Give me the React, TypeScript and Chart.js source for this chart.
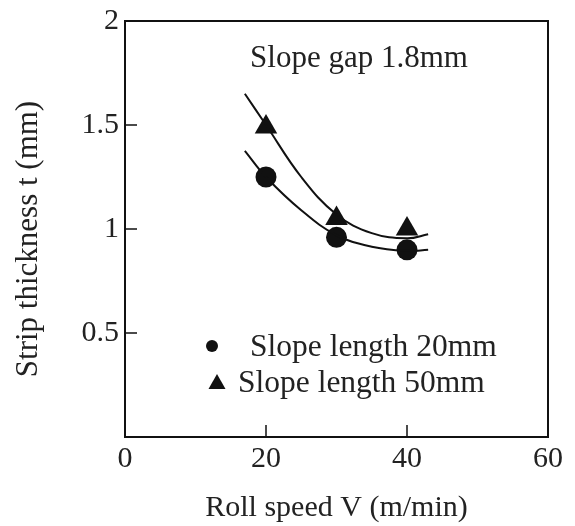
import React, { useEffect, useRef } from "react";
import { Chart, registerables } from "chart.js";

Chart.register(...registerables);

// Measured points (roll speed V in m/min -> strip thickness t in mm)
const speeds = [20, 30, 40];
const thickness20mm = [1.25, 0.96, 0.9];
const thickness50mm = [1.49, 1.05, 1.0];

// Fitted curves
const fitSpeeds = [17, 20, 25, 30, 35, 40, 43];
const fit20mm = [1.376, 1.25, 1.09, 0.97, 0.915, 0.895, 0.9];
const fit50mm = [1.65, 1.5, 1.25, 1.07, 0.98, 0.955, 0.975];

const xTicks = [0, 20, 40, 60];
const yTicks = [0.5, 1, 1.5, 2];
const innerXTicks = [20, 40];
const innerYTicks = [0.5, 1, 1.5];

const titleText = "Slope gap 1.8mm";
const legendLabels = ["Slope length 20mm", "Slope length 50mm"];
const xTitle = "Roll speed V (m/min)";
const yTitle = "Strip thickness t (mm)";

const FONT = "'Liberation Serif', 'Times New Roman', serif";
const INK = "#111";
const TEXT = "#222";

const framePlugin = {
  id: "frameAndNotes",
  afterDraw(chart: any) {
    const { ctx, chartArea: a, scales } = chart;
    const xs = scales.x;
    const ys = scales.y;
    ctx.save();
    ctx.strokeStyle = INK;
    ctx.lineWidth = 2;
    ctx.strokeRect(a.left, a.top, a.right - a.left, a.bottom - a.top);
    ctx.beginPath();
    for (const v of innerXTicks) {
      const px = xs.getPixelForValue(v);
      ctx.moveTo(px, a.bottom);
      ctx.lineTo(px, a.bottom - 12);
    }
    for (const v of innerYTicks) {
      const py = ys.getPixelForValue(v);
      ctx.moveTo(a.left, py);
      ctx.lineTo(a.left + 12, py);
    }
    ctx.lineWidth = 1.5;
    ctx.stroke();

    // y axis title (rotated)
    ctx.save();
    ctx.fillStyle = TEXT;
    ctx.font = `31px ${FONT}`;
    ctx.textAlign = "center";
    ctx.textBaseline = "middle";
    ctx.translate(29, (a.top + a.bottom) / 2 + 10);
    ctx.rotate(-Math.PI / 2);
    ctx.fillText(yTitle, 0, 0);
    ctx.restore();

    // annotation title
    ctx.fillStyle = TEXT;
    ctx.font = `31px ${FONT}`;
    ctx.textAlign = "center";
    ctx.textBaseline = "alphabetic";
    ctx.fillText(titleText, a.left + 234, a.top + 46);

    // legend
    ctx.textAlign = "left";
    ctx.fillStyle = INK;
    ctx.beginPath();
    ctx.arc(a.left + 87, a.top + 325, 6, 0, Math.PI * 2);
    ctx.fill();
    ctx.beginPath();
    const tx = a.left + 92;
    const ty = a.top + 361;
    ctx.moveTo(tx, ty - 8);
    ctx.lineTo(tx + 8.5, ty + 7);
    ctx.lineTo(tx - 8.5, ty + 7);
    ctx.closePath();
    ctx.fill();
    ctx.fillStyle = TEXT;
    ctx.font = `31.5px ${FONT}`;
    ctx.fillText(legendLabels[0], a.left + 125, a.top + 335);
    ctx.fillText(legendLabels[1], a.left + 113, a.top + 371);
    ctx.restore();
  },
};

export default function App() {
  const ref = useRef<HTMLCanvasElement>(null);

  useEffect(() => {
    if (!ref.current) return;
    const toXY = (xsArr: number[], ysArr: number[]) =>
      xsArr.map((x, i) => ({ x, y: ysArr[i] }));

    const chart = new Chart(ref.current, {
      type: "scatter",
      data: {
        datasets: [
          {
            label: "fit 20mm",
            data: toXY(fitSpeeds, fit20mm),
            showLine: true,
            tension: 0.4,
            borderColor: INK,
            borderWidth: 2,
            pointRadius: 0,
          },
          {
            label: "fit 50mm",
            data: toXY(fitSpeeds, fit50mm),
            showLine: true,
            tension: 0.4,
            borderColor: INK,
            borderWidth: 2,
            pointRadius: 0,
          },
          {
            label: legendLabels[0],
            data: toXY(speeds, thickness20mm),
            pointStyle: "circle",
            pointRadius: 10.5,
            backgroundColor: INK,
            borderColor: INK,
            borderWidth: 0,
          },
          {
            label: legendLabels[1],
            data: toXY(speeds, thickness50mm),
            pointStyle: "triangle",
            pointRadius: 13,
            backgroundColor: INK,
            borderColor: INK,
            borderWidth: 0,
          },
        ],
      },
      options: {
        responsive: false,
        animation: false,
        layout: { padding: { top: 16, right: 27, left: 0, bottom: 0 } },
        plugins: {
          legend: { display: false },
          tooltip: { enabled: false },
        },
        scales: {
          x: {
            type: "linear",
            min: 0,
            max: 60,
            afterBuildTicks: (s: any) => {
              s.ticks = xTicks.map((v) => ({ value: v }));
            },
            afterFit: (s: any) => {
              s.height = 89;
            },
            grid: { display: false, drawTicks: false },
            border: { display: false },
            ticks: {
              color: TEXT,
              font: { family: FONT, size: 30 },
              padding: 4,
              maxRotation: 0,
            },
            title: {
              display: true,
              text: xTitle,
              color: TEXT,
              font: { family: FONT, size: 30 },
              padding: { bottom: 0, top: 0 },
            },
          },
          y: {
            type: "linear",
            min: 0,
            max: 2,
            afterBuildTicks: (s: any) => {
              s.ticks = yTicks.map((v) => ({ value: v }));
            },
            afterFit: (s: any) => {
              s.width = 125;
            },
            grid: { display: false, drawTicks: false },
            border: { display: false },
            ticks: {
              color: TEXT,
              font: { family: FONT, size: 30, lineHeight: 1 },
              padding: 6,
              callback: (v: any) => String(v),
            },
            title: { display: false, text: yTitle },
          },
        },
      },
      plugins: [framePlugin],
    });
    return () => chart.destroy();
  }, []);

  return (
    <div style={{ position: "absolute", left: 0, top: 0, width: 575, height: 526, background: "#fff" }}>
      <canvas ref={ref} width={575} height={526} />
    </div>
  );
}
